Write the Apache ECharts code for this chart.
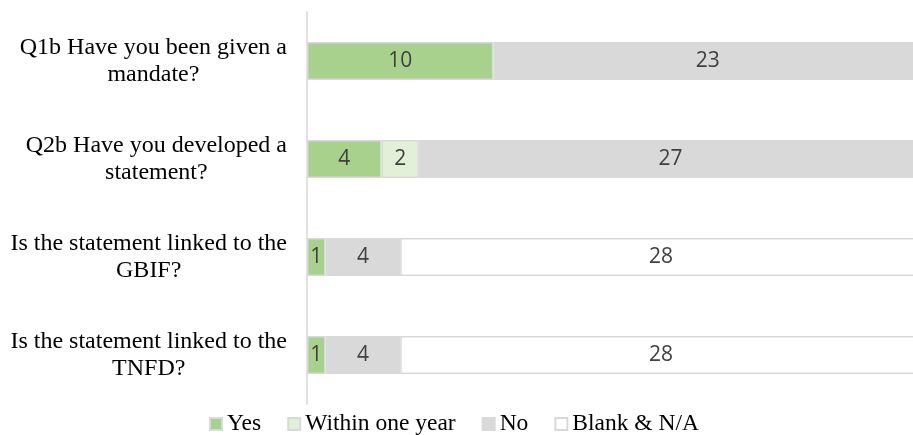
<!DOCTYPE html>
<html>
<head>
<meta charset="utf-8">
<script src="https://cdn.jsdelivr.net/npm/echarts@6/dist/echarts.min.js"></script>
<style>html,body{margin:0;padding:0;background:#fff;overflow:hidden}#c{width:922px;height:435px}</style>
</head>
<body>
<div id="c"></div>
<script>
const categories = [
  "Q1b Have you been given a\nmandate?",
  "Q2b Have you developed a\nstatement?",
  "Is the statement linked to the\nGBIF?",
  "Is the statement linked to the\nTNFD?"
];
const seriesNames = ["Yes", "Within one year", "No", "Blank & N/A"];
const yesValues = [10, 4, 1, 1];
const withinValues = [null, 2, null, null];
const noValues = [23, 27, 4, 4];
const blankValues = [null, null, 28, 28];
const seriesColors = ["#a9d18e", "#e2f0d9", "#d9d9d9", "#ffffff"];

const dataSets = [yesValues, withinValues, noValues, blankValues];
const chart = echarts.init(document.getElementById('c'), null, {renderer: 'canvas'});
const labelFont = "Liberation Serif";
chart.setOption({
  animation: false,
  backgroundColor: '#ffffff',
  grid: {left: 307, right: 0, top: 12, bottom: 31},
  xAxis: {type: 'value', min: 0, max: 33, show: false},
  yAxis: {
    type: 'category', data: categories, inverse: true,
    axisLine: {show: true, lineStyle: {color: '#d9d9d9', width: 1.5}},
    axisTick: {show: false},
    axisLabel: {
      align: 'right', margin: 20,
      formatter: v => v.split('\n').map(l => '{c|' + l + '}').join('\n'),
      rich: {c: {align: 'center', fontFamily: labelFont, fontSize: 24, lineHeight: 27, color: '#000'}}
    }
  },
  legend: {
    data: seriesNames, top: 407, left: 204,
    itemWidth: 12, itemHeight: 12, itemGap: 26, icon: 'rect',
    textStyle: {fontFamily: labelFont, fontSize: 23.5, color: '#000'}
  },
  series: seriesNames.map((name, i) => ({
    name, type: 'bar', stack: 'total', barWidth: 38,
    data: dataSets[i],
    itemStyle: {color: seriesColors[i], borderColor: '#d9d9d9', borderWidth: 1.5},
    label: {show: true, position: 'inside', fontFamily: 'Open Sans', fontSize: 21, color: '#404040',
      formatter: p => (p.value == null ? '' : p.value)}
  }))
});
</script>
</body>
</html>
